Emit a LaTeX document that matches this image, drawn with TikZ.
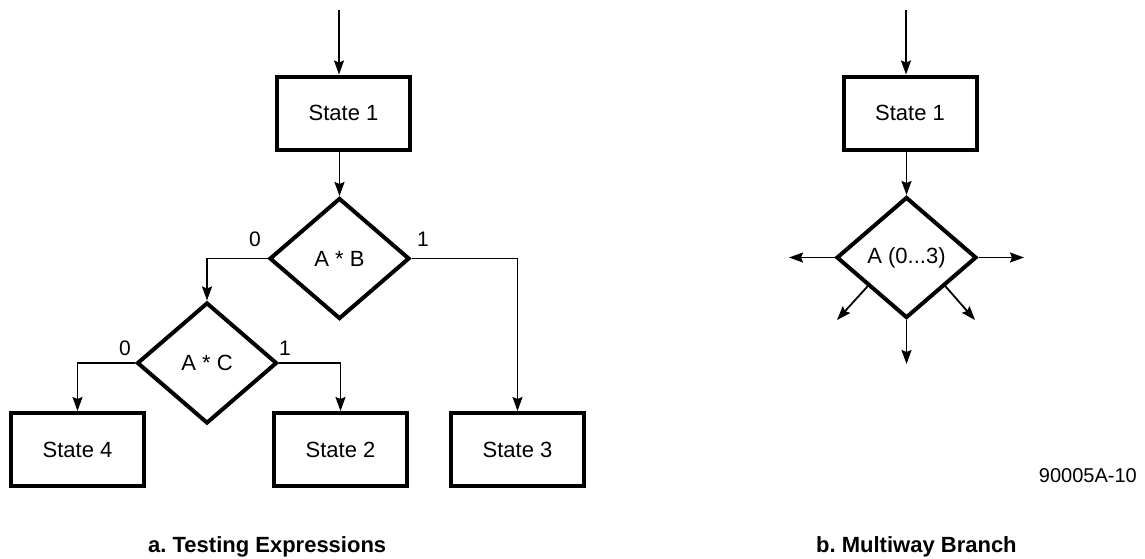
\documentclass[tikz,border=0pt]{standalone}
\usepackage{fontspec}
\setmainfont{Liberation Sans}
\usetikzlibrary{shapes.geometric,arrows.meta,calc}
\frenchspacing
\begin{document}
\begin{tikzpicture}[x=1pt,y=-1pt,
  statebox/.style={draw,line width=4pt,minimum width=133pt,minimum height=73pt,inner sep=0pt,
    font=\fontsize{22}{26}\selectfont},
  decide/.style={draw,diamond,line width=4pt,minimum width=140pt,minimum height=121pt,inner sep=0pt,
    font=\fontsize{22}{26}\selectfont},
  conn/.style={line width=1.8pt,-{Stealth[length=14pt,width=10pt,inset=2pt]}},
  lbl/.style={inner sep=0pt,font=\fontsize{21}{24}\selectfont},
  capt/.style={inner sep=0pt,anchor=base west,font=\fontsize{22}{26}\selectfont\bfseries}
]
\useasboundingbox (0,0) rectangle (1145,558);
% ---------- part a ----------
\coordinate (ta) at (339,10);
\node[statebox] (s1) at (343.5,113) {State 1};
\node[decide] (ab) at (339.5,258.5) {A * B};
\node[decide] (ac) at (207,363) {A * C};
\node[statebox] (s4) at (77.5,449.5) {State 4};
\node[statebox] (s2) at (340.5,449.5) {State 2};
\node[statebox] (s3) at (517.5,449.5) {State 3};
\draw[conn] (ta) -- (ta |- s1.north);
\draw[conn] (s1.south -| ab.north) -- (ab.north);
\draw[conn] (ab.west) -| (ac.north);
\draw[conn] (ab.east) -| (s3.north);
\draw[conn] (ac.west) -| (s4.north);
\draw[conn] (ac.east) -| (s2.north);
\node[lbl] (l0ab) at (255,239) {0};
\node[lbl] (l1ab) at (423,239) {1};
\node[lbl] (l0ac) at (125,348) {0};
\node[lbl] (l1ac) at (285,348) {1};
\node[capt] (capa) at (148,552) {a. Testing Expressions};
% ---------- part b ----------
\coordinate (tb) at (906,10);
\node[statebox] (b1) at (910,113) {State 1};
\node[decide] (bd) at (906.5,257.5) {A (0...3)};
\coordinate (bw) at (789,257.5);
\coordinate (be) at (1024,257.5);
\coordinate (bs) at (906.5,364);
\coordinate (bsw) at (837,320);
\coordinate (bse) at (975,320);
\draw[conn] (tb) -- (tb |- b1.north);
\draw[conn] (b1.south -| bd.north) -- (bd.north);
\draw[conn] (bd.west) -- (bw);
\draw[conn] (bd.east) -- (be);
\draw[conn] (bd.south) -- (bs);
\draw[conn] ($(bd.west)!0.46!(bd.south)$) -- (bsw);
\draw[conn] ($(bd.east)!0.46!(bd.south)$) -- (bse);
\node[capt] (capb) at (816,552) {b. Multiway Branch};
\node[inner sep=0pt,anchor=base east,font=\fontsize{20}{24}\selectfont] (code) at (1137,482) {90005A-10};
\end{tikzpicture}
\end{document}
